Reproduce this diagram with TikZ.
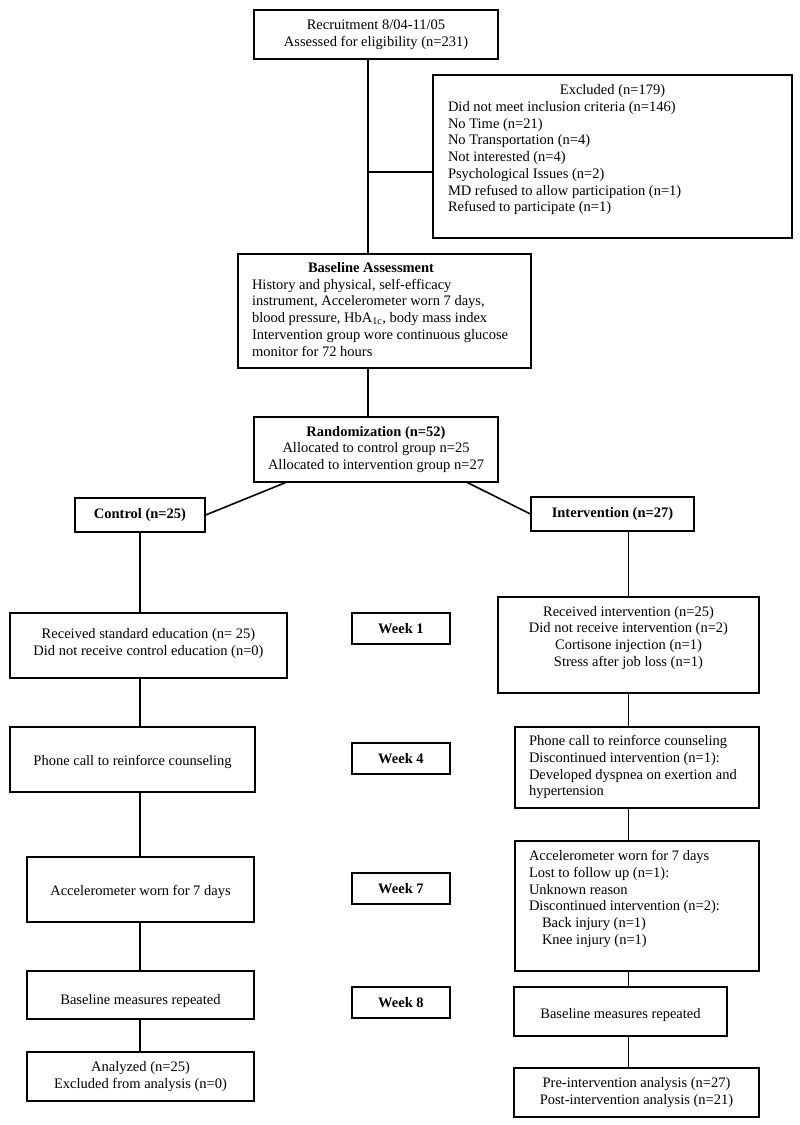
\documentclass[tikz,border=0pt]{standalone}
\usepackage{fontspec}
\setmainfont{Liberation Serif}
\usepackage{array}
\usetikzlibrary{calc}
\newcommand{\fs}{\fontsize{14.5}{16.7}\selectfont}
\newcommand{\up}[2]{\raisebox{#1}[\height][\depth]{#2}}
\tikzset{
  box/.style={draw, line width=1.2pt, inner sep=0pt, align=center, font=\fs},
  conn/.style={line width=1.6pt},
}
\begin{document}
\begin{tikzpicture}[x=1pt,y=-1pt]
\useasboundingbox[fill=white] (0,0) rectangle (800,1125);

% top
\node[box, minimum width=244pt, minimum height=49pt] (rec) at (376,34.5)
  {Recruitment 8/04-11/05\\Assessed for eligibility (n=231)};
\node[box, minimum width=359pt, minimum height=163pt] (excl) at (612.5,156.5)
  {\up{6.5pt}{\begin{tabular}{@{}p{329pt}@{}}
   \multicolumn{1}{@{}c@{}}{Excluded (n=179)}\\
   Did not meet inclusion criteria (n=146)\\
   No Time (n=21)\\
   No Transportation (n=4)\\
   Not interested (n=4)\\
   Psychological Issues (n=2)\\
   MD refused to allow participation (n=1)\\
   Refused to participate (n=1)
  \end{tabular}}};
\node[box, minimum width=293pt, minimum height=114pt] (base) at (384.5,311)
  {\begin{tabular}{@{}p{265pt}@{}}
   \hspace*{56pt}\textbf{Baseline Assessment}\\
   History and physical, self-efficacy\\
   instrument, Accelerometer worn 7 days,\\
   blood pressure, HbA\textsubscript{1c}, body mass index\\
   Intervention group wore continuous glucose\\
   monitor for 72 hours
  \end{tabular}};
\node[box, minimum width=244pt, minimum height=65pt] (rand) at (376,449.5)
  {\textbf{Randomization (n=52)}\\Allocated to control group n=25\\Allocated to intervention group n=27};

% groups
\node[box, minimum width=130pt, minimum height=34pt] (ctrl) at (140,515) {\textbf{Control (n=25)}};
\node[box, minimum width=163pt, minimum height=34pt] (intv) at (612.5,514) {\textbf{Intervention (n=27)}};

% week labels
\node[box, minimum width=98pt, minimum height=31pt] (w1) at (401,628.5) {\textbf{Week 1}};
\node[box, minimum width=98pt, minimum height=31pt] (w4) at (401,758.5) {\textbf{Week 4}};
\node[box, minimum width=98pt, minimum height=31pt] (w7) at (401,888.5) {\textbf{Week 7}};
\node[box, minimum width=98pt, minimum height=31pt] (w8) at (401,1002.5) {\textbf{Week 8}};

% control column
\node[box, minimum width=277pt, minimum height=65pt] (recstd) at (148.5,645.5)
  {\up{1.5pt}{\begin{tabular}{@{}c@{}}Received standard education (n= 25)\\Did not receive control education (n=0)\end{tabular}}};
\node[box, minimum width=245pt, minimum height=65pt] (phoneL) at (132.5,759.5)
  {\up{-2.5pt}{Phone call to reinforce counseling}};
\node[box, minimum width=227pt, minimum height=65pt] (accL) at (140.5,889.5)
  {\up{-2.5pt}{Accelerometer worn for 7 days}};
\node[box, minimum width=227pt, minimum height=48pt] (baseL) at (140.5,995)
  {\up{-6pt}{Baseline measures repeated}};
\node[box, minimum width=227pt, minimum height=49pt] (anaL) at (140.5,1076.5)
  {Analyzed (n=25)\\Excluded from analysis (n=0)};

% intervention column
\node[box, minimum width=261pt, minimum height=96pt] (recint) at (628.5,645)
  {\up{7pt}{\begin{tabular}{@{}c@{}}Received intervention (n=25)\\Did not receive intervention (n=2)\\Cortisone injection (n=1)\\Stress after job loss (n=1)\end{tabular}}};
\node[box, minimum width=244pt, minimum height=81pt] (phoneR) at (637,767.5)
  {\begin{tabular}{@{}p{216pt}@{}}Phone call to reinforce counseling\\Discontinued intervention (n=1):\\Developed dyspnea on exertion and\\hypertension\end{tabular}};
\node[box, minimum width=244pt, minimum height=130pt] (accR) at (637,906)
  {\up{7pt}{\begin{tabular}{@{}p{216pt}@{}}Accelerometer worn for 7 days\\Lost to follow up (n=1):\\Unknown reason\\Discontinued intervention (n=2):\\\hspace*{13pt}Back injury (n=1)\\\hspace*{13pt}Knee injury (n=1)\end{tabular}}};
\node[box, minimum width=213pt, minimum height=49pt] (baseR) at (620.5,1011.5)
  {\up{-3.5pt}{Baseline measures repeated}};
\node[box, minimum width=245pt, minimum height=49pt] (preR) at (636.5,1092.5)
  {Pre-intervention analysis (n=27)\\Post-intervention analysis (n=21)};

% connectors
\coordinate (j1) at (368,172);
\draw[conn] (rec.south -| j1) -- (base.north -| j1);
\draw[conn] (j1) -- (excl.west |- j1);
\draw[conn] (base.south -| j1) -- (rand.north -| j1);
\draw[conn] ($(rand.south west)!0.131!(rand.south east)$) -- (ctrl.east);
\draw[conn] ($(rand.south west)!0.873!(rand.south east)$) -- (intv.west);

\draw[conn] (ctrl.south) -- (ctrl.south |- recstd.north);
\draw[conn] (recstd.south -| ctrl.south) -- (phoneL.north -| ctrl.south);
\draw[conn] (phoneL.south -| ctrl.south) -- (accL.north -| ctrl.south);
\draw[conn] (accL.south -| ctrl.south) -- (baseL.north -| ctrl.south);
\draw[conn] (baseL.south -| ctrl.south) -- (anaL.north -| ctrl.south);

\draw[conn] (recint.north |- intv.south) -- (recint.north);
\draw[conn] (recint.south) -- (recint.south |- phoneR.north);
\draw[conn] (phoneR.south -| recint.south) -- (accR.north -| recint.south);
\draw[conn] (accR.south -| recint.south) -- (baseR.north -| recint.south);
\draw[conn] (baseR.south -| recint.south) -- (preR.north -| recint.south);
\end{tikzpicture}
\end{document}
